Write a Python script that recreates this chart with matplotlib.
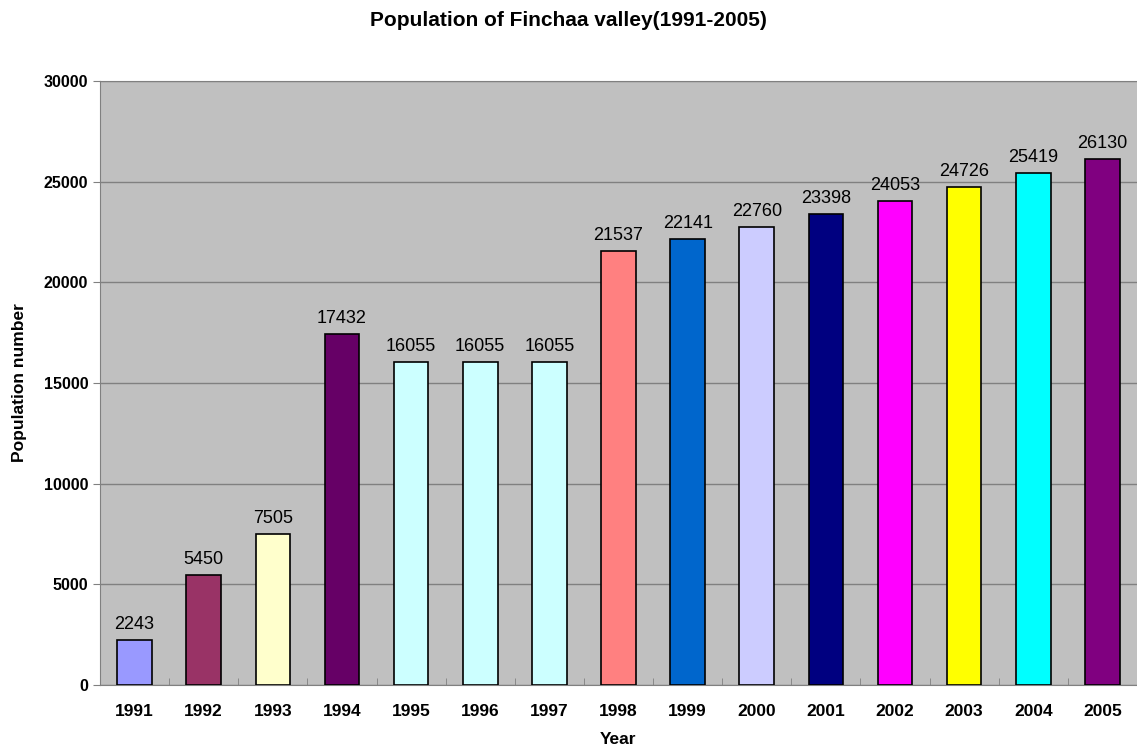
import numpy as np
import matplotlib.pyplot as plt

plt.rcParams["font.family"] = ["Liberation Sans", "DejaVu Sans"]

# Daten
years = ["1991", "1992", "1993", "1994", "1995", "1996", "1997", "1998",
         "1999", "2000", "2001", "2002", "2003", "2004", "2005"]
population = [2243, 5450, 7505, 17432, 16055, 16055, 16055, 21537,
              22141, 22760, 23398, 24053, 24726, 25419, 26130]
bar_colors = ["#9999FF", "#993366", "#FFFFCC", "#660066", "#CCFFFF", "#CCFFFF",
              "#CCFFFF", "#FF8080", "#0066CC", "#CCCCFF", "#000080", "#FF00FF",
              "#FFFF00", "#00FFFF", "#800080"]

fig = plt.figure(figsize=(11.37, 7.48), dpi=100, facecolor="white")
ax = fig.add_axes([100 / 1137, 63 / 748, 1037 / 1137, 604 / 748])
ax.set_facecolor("#C0C0C0")

x = np.arange(len(years))
bars = ax.bar(x, population, width=0.5, color=bar_colors, edgecolor="black",
              linewidth=1.2, zorder=3)

# Werte über den Balken
for xi, v in zip(x, population):
    ax.text(xi, v + 350, str(v), ha="center", va="bottom", fontsize=13, zorder=4)

ax.set_xlim(-0.5, len(years) - 0.5)
ax.set_ylim(0, 30000)
ax.set_yticks(np.arange(0, 30001, 5000))
ax.yaxis.grid(True, color="#808080", linewidth=1, zorder=1)
ax.set_axisbelow(True)

ax.set_xticks(x)
ax.set_xticklabels(years, fontsize=12.5, fontweight="bold")
ax.set_xticks(np.arange(-0.5, len(years)), minor=True)
ax.tick_params(axis="x", which="major", length=0, pad=14)
ax.tick_params(axis="x", which="minor", length=5, color="#808080", direction="in")
ax.tick_params(axis="y", labelsize=11.5, length=5, color="#808080")
for lbl in ax.get_yticklabels():
    lbl.set_fontweight("bold")

for s in ["left", "bottom", "top"]:
    ax.spines[s].set_color("#808080")
ax.spines["right"].set_visible(False)

ax.set_xlabel("Year", fontsize=12.5, fontweight="bold", labelpad=9)
ax.set_ylabel("Population number", fontsize=12.5, fontweight="bold", labelpad=12)
fig.text(0.5, 1 - 20 / 748, "Population of Finchaa valley(1991-2005)",
         ha="center", va="center", fontsize=15, fontweight="bold")

plt.savefig("out.png", dpi=100)
